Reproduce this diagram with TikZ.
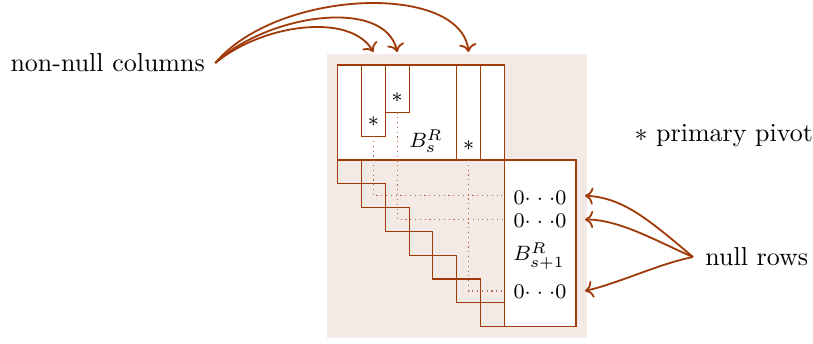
\documentclass[tikz,border=0pt]{standalone}
\usetikzlibrary{arrows.meta}
\definecolor{rust}{RGB}{160,58,8}
\definecolor{blush}{RGB}{243,234,229}
% a row of zeros, 0 . . . 0
\newcommand\zerorow{$0{\cdot}\mkern5mu{\cdot}\mkern5mu{\cdot}0$}
\begin{document}
\begin{tikzpicture}[x=0.385pt,y=-0.385pt,
  frame/.style={draw=rust, line width=0.45pt},
  cell/.style={frame, fill=white},
  guide/.style={draw=rust!75, line width=0.5pt, dash pattern=on 0.45pt off 1.4pt},
  link/.style={draw=rust, line width=0.7pt, ->},
  txt/.style={inner sep=0pt},
  inner/.style={inner sep=0pt, font=\footnotesize}]
\useasboundingbox (0,0) rectangle (813,343);
\def\s{23.8}
% shaded matrix area
\fill[blush] (327,54) rectangle (587,338);
% upper block B_s^R and its non-null columns
\draw[cell] (337.7,65) rectangle (504.3,160);
\draw[cell] (361.5,65) rectangle (385.3,136.2);
\draw[cell] (385.3,65) rectangle (409.1,112.4);
\draw[cell] (456.7,65) rectangle (480.5,160);
% staircase below the block
\draw[frame] (337.7,160) \foreach \k in {1,...,7} { -- ++(0,\s) -- ++(\s,0) };
\draw[frame] (361.5,160) \foreach \k in {1,...,6} { -- ++(0,\s) -- ++(\s,0) };
% lower block B_{s+1}^R
\draw[cell] (504.3,160) rectangle (576,326.6);

% pivots and labels
\node[inner] (p1) at (373.4,122) {$*$};
\node[inner] (p2) at (397.2,98) {$*$};
\node[inner] (p3) at (468.6,146) {$*$};
\node[inner] (bs) at (426,141) {$B_s^R$};
\node[inner] (bs1) at (539,256) {$B_{s+1}^R$};
\node[inner] (z1) at (540,197.5) {\zerorow};
\node[inner] (z2) at (540,221) {\zerorow};
\node[inner] (z3) at (540,291.5) {\zerorow};
\node[txt, anchor=west] (pp) at (634,136) {$*$ primary pivot};
\node[inner xsep=3.85pt, inner ysep=0pt, anchor=west] (nn) at (0,63) {non-null columns};
\node[inner xsep=4.6pt, inner ysep=0pt, anchor=west] (nr) at (693,257) {null rows};

% column bottoms and row ends
\coordinate (b1) at (373.4,136.2);
\coordinate (b2) at (397.2,112.4);
\coordinate (b3) at (468.6,160);
\coordinate (e1) at (504.3,195.7);
\coordinate (e2) at (504.3,219.5);
\coordinate (e3) at (504.3,290.9);
\draw[guide] (b1) |- (e1);
\draw[guide] (b2) |- (e2);
\draw[guide] (b3) |- (e3);

% arrow targets
\coordinate (t1) at (373.4,52);
\coordinate (t2) at (397.2,52);
\coordinate (t3) at (468.6,52);
\coordinate (r1) at (585,195.7);
\coordinate (r2) at (585,219.5);
\coordinate (r3) at (585,290.9);

\draw[link] (nn.east) .. controls +(47,-39) and +(-23,-40) .. (t1);
\draw[link] (nn.east) .. controls +(52,-49) and +(-12,-55) .. (t2);
\draw[link] (nn.east) .. controls +(62,-74) and +(-8,-70) .. (t3);
\draw[link] (nr.west) .. controls +(-45,-38) and +(38,2) .. (r1);
\draw[link] (nr.west) .. controls +(-35,-15) and +(35,0) .. (r2);
\draw[link] (nr.west) .. controls +(-35,7) and +(35,-8) .. (r3);
\end{tikzpicture}
\end{document}
